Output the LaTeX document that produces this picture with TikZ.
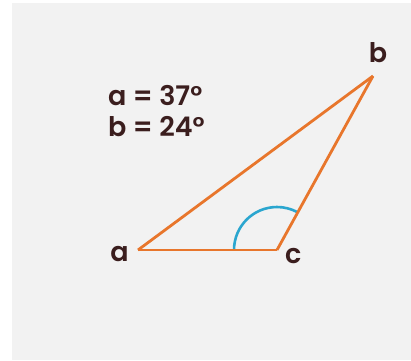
\documentclass[tikz,border=0pt]{standalone}
\usepackage{fontspec}
\setmainfont{Poppins}[BoldFont={Poppins SemiBold}]
\usepackage{tikz}
\usetikzlibrary{calc}
\definecolor{edgeorange}{HTML}{E8762C}
\definecolor{arcblue}{HTML}{2BA6CF}
\definecolor{inkbrown}{HTML}{3B1E1E}
\definecolor{paper}{HTML}{F2F2F2}

\begin{document}
\begin{tikzpicture}[x=1pt, y=-1pt, every node/.style={font=\fontsize{27}{32}\selectfont\bfseries, text=inkbrown, inner sep=0pt}]
        \useasboundingbox (0,0) rectangle (411,360);
        \fill[white] (0,0) rectangle (411,360);
        \fill[paper] (12,3) rectangle (411,360);
        % vertices
        \coordinate (a) at (138,250);
        \coordinate (c) at (277,250);
        \coordinate (b) at (373,76);
        \node[anchor=base east] (la) at (129,261) {a};
        \node[anchor=base west] (lc) at (285,263) {c};
        \node[anchor=base] (lb) at (378,62) {b};
        \node[anchor=base west] (t1) at (108,105) {a = 37°};
        \node[anchor=base west] (t2) at (108,136) {b = 24°};
        \draw[arcblue, line width=2.6pt] ($(c)+(-43,0)$) arc[start angle=180, end angle=298, radius=43];
        \foreach \x/\y in {a/c,c/b,b/a}{\draw[edgeorange, line width=2.8pt, line join=round] (\x) -- (\y);}
      \end{tikzpicture}
\end{document}
